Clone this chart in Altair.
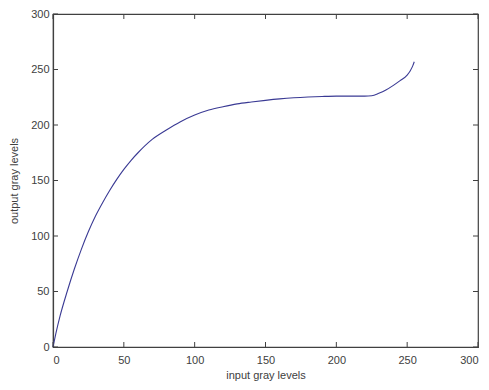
import altair as alt
import pandas as pd

# curve
x_in = [0, 2, 5, 10, 15, 20, 25, 30, 35, 40, 45, 50, 55, 60, 70, 80, 90, 100, 110, 120,
        130, 140, 150, 160, 170, 180, 190, 200, 210, 220, 225, 230, 235, 240, 245,
        250, 252, 254, 255]
y_out = [0, 12, 28, 50, 70, 88, 104, 118, 130, 141, 151, 160, 168, 175, 187, 195.5,
         203, 209, 213.5, 216.5, 219, 220.7, 222.2, 223.5, 224.5, 225.2, 225.7, 226, 226,
         226, 226.3, 228.5, 231.5, 235.5, 240, 245, 248.5, 253.5, 257]
tick_vals = [0, 50, 100, 150, 200, 250, 300]

W, H = 425, 333
FONT = "Liberation Sans"
AX = "#404040"

df = pd.DataFrame({"x": x_in, "y": y_out})
ticks = pd.DataFrame({"t": tick_vals})

xs = alt.Scale(domain=[0, 300], nice=False, zero=False)
ys = alt.Scale(domain=[0, 300], nice=False, zero=False)

line = alt.Chart(df).mark_line(color="#3a3a94", strokeWidth=1.1, interpolate="monotone").encode(
    x=alt.X("x:Q", scale=xs, axis=alt.Axis(values=tick_vals, title="input gray levels",
                                           tickSize=0, grid=False, labelPadding=7,
                                           titlePadding=4)),
    y=alt.Y("y:Q", scale=ys, axis=alt.Axis(values=tick_vals, title="output gray levels",
                                           tickSize=0, grid=False, labelPadding=4,
                                           titlePadding=11)),
)

bt = alt.Chart(ticks).mark_rule(color=AX).encode(
    x=alt.X("t:Q", scale=xs), y=alt.value(H), y2=alt.value(H - 5))
tt = alt.Chart(ticks).mark_rule(color=AX).encode(
    x=alt.X("t:Q", scale=xs), y=alt.value(0), y2=alt.value(5))
lt = alt.Chart(ticks).mark_rule(color=AX).encode(
    y=alt.Y("t:Q", scale=ys), x=alt.value(0), x2=alt.value(5))
rt = alt.Chart(ticks).mark_rule(color=AX).encode(
    y=alt.Y("t:Q", scale=ys), x=alt.value(W), x2=alt.value(W - 5))

chart = alt.layer(line, bt, tt, lt, rt).properties(
    width=W, height=H,
    autosize=alt.AutoSizeParams(type="none"),
    padding={"left": 45, "top": 6, "right": 3, "bottom": 35},
).configure_view(stroke=AX, strokeWidth=1.2).configure_axis(
    domainColor=AX, domainWidth=1.2,
    labelFont=FONT, labelFontSize=11, labelColor="#404040",
    titleFont=FONT, titleFontSize=11, titleFontWeight="normal", titleColor="#404040",
)

chart.save("out.html", embed_options={"renderer": "svg", "actions": False})
